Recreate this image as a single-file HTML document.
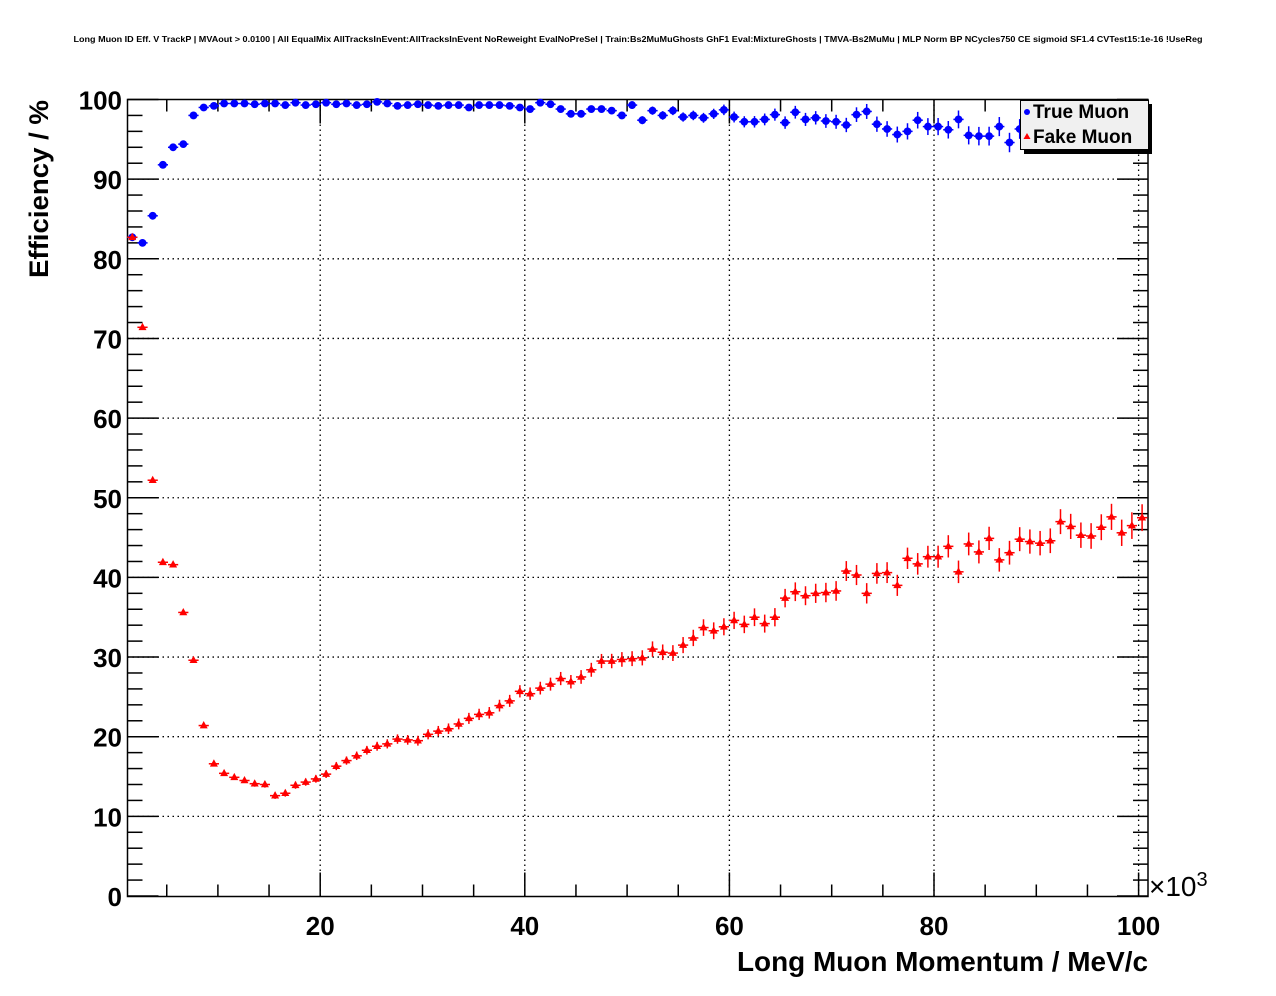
<!DOCTYPE html>
<html><head><meta charset="utf-8"><style>
html,body{margin:0;padding:0;background:#fff;}
svg{display:block;font-family:"Liberation Sans",sans-serif;}
</style></head><body>
<svg id="s" width="1276" height="996" viewBox="0 0 1276 996" xmlns="http://www.w3.org/2000/svg">
<rect width="1276" height="996" fill="#fff"/>
<text x="638" y="42" font-size="8.5" font-weight="bold" text-anchor="middle" textLength="1129" lengthAdjust="spacingAndGlyphs">Long Muon ID Eff. V TrackP | MVAout &gt; 0.0100 | All EqualMix AllTracksInEvent:AllTracksInEvent NoReweight EvalNoPreSel | Train:Bs2MuMuGhosts GhF1 Eval:MixtureGhosts | TMVA-Bs2MuMu | MLP Norm BP NCycles750 CE sigmoid SF1.4 CVTest15:1e-16 !UseReg</text>
<g id="grid"></g>
<g id="axes"></g>
<g id="data"></g>
<g id="leg">
<rect x="1024" y="104" width="128" height="50" fill="#000"/>
<rect x="1020.5" y="100.5" width="128" height="49" fill="#f0f0f0" stroke="#000" stroke-width="1"/>
<circle cx="1027" cy="112" r="3" fill="#0000ff"/>
<text x="1033" y="118" font-size="19" font-weight="bold">True Muon</text>
<polygon points="1027,133 1023.5,139 1030.5,139" fill="#ff0000"/>
<text x="1033" y="143" font-size="19" font-weight="bold">Fake Muon</text>
</g>
<g font-weight="bold" font-size="26" text-anchor="end" id="ylab"></g>
<g font-weight="bold" font-size="26" text-anchor="middle" id="xlab"></g>
<text x="1149" y="896" font-size="28">×10<tspan font-size="20" dy="-10">3</tspan></text>
<text x="1148" y="971" font-size="28" font-weight="bold" text-anchor="end" textLength="411" lengthAdjust="spacingAndGlyphs">Long Muon Momentum / MeV/c</text>
<text transform="translate(48,278) rotate(-90)" font-size="27" font-weight="bold" textLength="178" lengthAdjust="spacingAndGlyphs">Efficiency / %</text>
</svg>
<script>
var NS="http://www.w3.org/2000/svg";
function el(p,t,a){var e=document.createElementNS(NS,t);for(var k in a)e.setAttribute(k,a[k]);document.getElementById(p).appendChild(e);return e;}
var L=127.5,R=1148,T=99.5,B=896.5;
function X(v){return 115.6+10.23*v;}
function Y(v){return 896-7.965*v;}
for(var v=10;v<100;v+=10){el("grid","line",{x1:L,x2:R,y1:Y(v),y2:Y(v),stroke:"#000","stroke-dasharray":"1.5,3.5","stroke-width":1.3});}
for(var v=20;v<=100;v+=20){el("grid","line",{x1:X(v),x2:X(v),y1:T,y2:B,stroke:"#000","stroke-dasharray":"1.5,3.5","stroke-width":1.3});}
el("axes","rect",{x:L,y:T,width:R-L,height:B-T,fill:"none",stroke:"#000","stroke-width":1.5});
for(var v=0;v<=100;v+=2){var len=(v%10==0)?31:15;el("axes","line",{x1:L,x2:L+len,y1:Y(v),y2:Y(v),stroke:"#000","stroke-width":1.5});el("axes","line",{x1:R,x2:R-len,y1:Y(v),y2:Y(v),stroke:"#000","stroke-width":1.5});}
for(var v=0;v<=100;v+=10){var t=el("ylab","text",{x:122,y:Y(v)+10});t.textContent=v;}
for(var v=5;v<=100;v+=5){var len=(v%20==0)?24:12;el("axes","line",{x1:X(v),x2:X(v),y1:B,y2:B-len,stroke:"#000","stroke-width":1.5});el("axes","line",{x1:X(v),x2:X(v),y1:T,y2:T+len,stroke:"#000","stroke-width":1.5});}
for(var v=20;v<=100;v+=20){var t=el("xlab","text",{x:X(v),y:935});t.textContent=v;}
var blue=[82.7,82.0,85.4,91.8,94.0,94.4,98.0,99.0,99.2,99.5,99.5,99.5,99.4,99.5,99.5,99.3,99.6,99.3,99.4,99.6,99.4,99.5,99.3,99.4,99.7,99.5,99.2,99.3,99.4,99.3,99.2,99.3,99.3,99.0,99.3,99.3,99.3,99.2,99.0,98.8,99.6,99.4,98.8,98.2,98.2,98.8,98.8,98.6,98.0,99.3,97.4,98.6,98.0,98.6,97.8,98.0,97.7,98.2,98.7,97.8,97.2,97.2,97.5,98.1,97.1,98.4,97.5,97.7,97.3,97.2,96.8,98.1,98.5,96.9,96.3,95.6,96.0,97.4,96.6,96.6,96.2,97.5,95.5,95.4,95.4,96.6,94.6,96.3,95.5,95.8,96.0,95.5,96.2,95.0,96.3,95.8,95.1,96.0,95.4,95.7];
var red=[82.7,71.4,52.2,41.9,41.6,35.6,29.6,21.4,16.6,15.4,14.9,14.5,14.1,14.0,12.6,12.9,13.9,14.3,14.7,15.3,16.3,17.0,17.6,18.3,18.8,19.1,19.7,19.6,19.5,20.3,20.7,21.0,21.6,22.3,22.8,23.0,23.9,24.5,25.7,25.4,26.1,26.6,27.3,26.9,27.5,28.4,29.5,29.5,29.7,29.8,29.9,31.0,30.6,30.5,31.5,32.4,33.7,33.3,33.8,34.6,34.1,35.0,34.2,35.0,37.4,38.2,37.7,38.0,38.1,38.3,40.8,40.3,38.0,40.5,40.6,39.0,42.4,41.7,42.6,42.6,43.9,40.7,44.2,43.2,44.9,42.2,43.1,44.8,44.5,44.3,44.6,47.0,46.4,45.3,45.2,46.3,47.6,45.6,46.5,47.5];
for(var i=0;i<100;i++){
 var cx=132.3+10.2*i;
 var eb=i<40?0.2:(0.3+0.02*(i-40));
 var er=0.2+0.015*i;
 var by=Y(blue[i]);var e=eb*7.965;
 el("data","line",{x1:cx-5.1,x2:cx+5.1,y1:by,y2:by,stroke:"#0000ff","stroke-width":1.5});
 if(e>3)el("data","line",{x1:cx,x2:cx,y1:by-e,y2:by+e,stroke:"#0000ff","stroke-width":1.5});
 el("data","circle",{cx:cx,cy:by,r:3.9,fill:"#0000ff"});
 var ry=Y(red[i]);var e2=er*7.965;
 el("data","line",{x1:cx-5.1,x2:cx+5.1,y1:ry,y2:ry,stroke:"#ff0000","stroke-width":1.5});
 if(e2>3)el("data","line",{x1:cx,x2:cx,y1:ry-e2,y2:ry+e2,stroke:"#ff0000","stroke-width":1.5});
 el("data","polygon",{points:(cx)+","+(ry-4.5)+" "+(cx-4)+","+(ry+2.8)+" "+(cx+4)+","+(ry+2.8),fill:"#ff0000"});
}
</script>
</body></html>
